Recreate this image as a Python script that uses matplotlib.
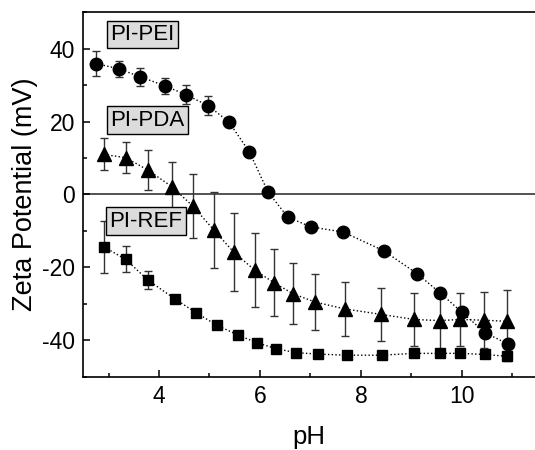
import matplotlib
matplotlib.use("Agg")
import matplotlib.pyplot as plt
from matplotlib.ticker import MultipleLocator

plt.rcParams['font.family'] = ['Liberation Sans', 'DejaVu Sans']
plt.rcParams['axes.unicode_minus'] = False

# PI-PEI (circles)
ph_pei = [2.76, 3.20, 3.63, 4.12, 4.53, 4.97, 5.38, 5.79, 6.16, 6.55, 7.01, 7.65,
          8.46, 9.11, 9.57, 10.0, 10.46, 10.92]
zp_pei = [35.9, 34.5, 32.3, 29.8, 27.4, 24.4, 20.0, 11.7, 0.7, -6.2, -8.9, -10.3,
          -15.5, -21.7, -27.0, -32.3, -37.9, -41.1]
err_pei = [3.5, 2.2, 2.4, 2.3, 2.6, 2.6, 0.8, 0.8, 0.8, 0.8, 0.8, 0.8,
           0.8, 0.8, 0.8, 0.8, 0.8, 0.8]

# PI-PDA (triangles)
ph_pda = [2.91, 3.34, 3.78, 4.26, 4.67, 5.09, 5.48, 5.90, 6.28, 6.65, 7.09, 7.68,
          8.40, 9.06, 9.56, 9.97, 10.44, 10.89]
zp_pda = [11.0, 10.1, 6.7, 2.1, -3.2, -9.8, -15.8, -20.8, -24.2, -27.2, -29.5, -31.4,
          -32.9, -34.3, -34.6, -34.3, -34.5, -34.8]
err_pda = [4.4, 4.3, 5.4, 6.7, 8.8, 10.5, 10.7, 10.1, 9.2, 8.4, 7.8, 7.4,
           7.2, 7.3, 7.8, 7.3, 7.7, 8.7]

# PI-REF (squares)
ph_ref = [2.91, 3.34, 3.78, 4.31, 4.74, 5.15, 5.57, 5.94, 6.32, 6.71, 7.16, 7.72,
          8.41, 9.06, 9.56, 9.97, 10.46, 10.89]
zp_ref = [-14.4, -17.8, -23.5, -28.6, -32.5, -35.9, -38.6, -40.7, -42.3, -43.4, -43.8, -44.1,
          -44.1, -43.6, -43.6, -43.6, -43.9, -44.4]
err_ref = [7.2, 3.6, 2.5, 0.8, 0.6, 0.6, 0.6, 0.6, 0.6, 0.6, 0.6, 0.6,
           0.6, 0.6, 0.6, 0.6, 0.6, 1.2]

labels = ["PI-PEI", "PI-PDA", "PI-REF"]
label_pos = [(3.04, 43.9), (3.04, 20.4), (3.02, -7.3)]

fig = plt.figure(figsize=(5.35, 4.5), dpi=100)
ax = fig.add_axes([0.1557, 0.1629, 0.8443, 0.8098])

ax.axhline(0, color='#444444', lw=1.3, zorder=1)

style = dict(color='black', ls=':', lw=1.0, ecolor='#333333', elinewidth=1.0,
             capsize=3, capthick=1.0, zorder=3)
ax.errorbar(ph_pei, zp_pei, yerr=err_pei, marker='o', ms=9, **style)
ax.errorbar(ph_pda, zp_pda, yerr=err_pda, marker='^', ms=10.5, **style)
ax.errorbar(ph_ref, zp_ref, yerr=err_ref, marker='s', ms=7.5, **style)

for txt, (x, y) in zip(labels, label_pos):
    ax.text(x, y, txt, fontsize=16, ha='left', va='center', zorder=4,
            bbox=dict(boxstyle='square,pad=0.15', facecolor='#dcdcdc', edgecolor='black', lw=1.0))

ax.set_xlim(2.5, 11.45)
ax.set_ylim(-50, 50)
ax.xaxis.set_major_locator(MultipleLocator(2))
ax.xaxis.set_minor_locator(MultipleLocator(1))
ax.yaxis.set_major_locator(MultipleLocator(20))
ax.yaxis.set_minor_locator(MultipleLocator(10))
ax.tick_params(which='both', direction='in', labelsize=16.5, width=1.1)
ax.tick_params(which='major', length=5)
ax.tick_params(which='minor', length=3)
ax.tick_params(axis='y', pad=6)
ax.tick_params(axis='x', pad=6)

for side in ['left', 'bottom', 'top']:
    ax.spines[side].set_linewidth(1.2)
ax.spines['right'].set_visible(False)

ax.set_xlabel("pH", fontsize=18.5, labelpad=12)
ax.set_ylabel("Zeta Potential (mV)", fontsize=19.5)
ax.yaxis.set_label_coords(-0.100, 0.5)

fig.savefig("out.png", dpi=100)
